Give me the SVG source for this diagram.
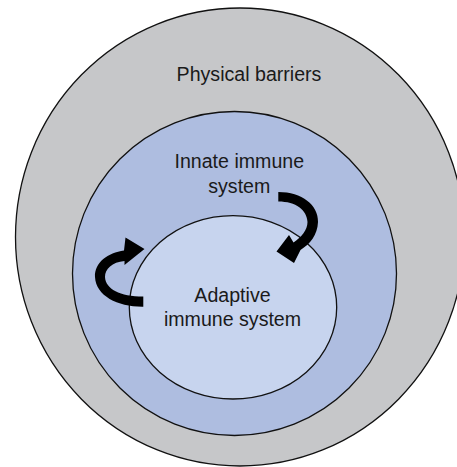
<svg xmlns="http://www.w3.org/2000/svg" width="457" height="467" viewBox="0 0 457 467">
<style>
.ring{stroke:#111;stroke-width:1.3}
.lbl{font-family:"Liberation Sans",Arial,sans-serif;font-size:19.6px;fill:#1a1a1a;text-anchor:middle}
.arr{fill:#000}
</style>
<rect width="457" height="467" fill="#fff"/>
<g id="physical-barriers">
<ellipse class="ring" cx="240" cy="237" rx="224.5" ry="229" fill="#c6c7c9"/>
<text class="lbl" x="249" y="81">Physical barriers</text>
</g>
<g id="innate-immune-system">
<circle class="ring" cx="234.5" cy="273.5" r="162" fill="#aebde0"/>
<text class="lbl" x="239.3" y="168">Innate immune</text>
<text class="lbl" x="239.3" y="192.5">system</text>
</g>
<g id="adaptive-immune-system">
<ellipse class="ring" cx="233" cy="307.3" rx="103.7" ry="91.7" fill="#c7d4ee"/>
<text class="lbl" x="232.5" y="301.7">Adaptive</text>
<text class="lbl" x="232.5" y="325.7">immune system</text>
</g>
<g id="connectors">
<path class="arr" d="M278.3,192 C302,192 318.5,205 318,222 C317.5,235 310,244 300.5,250 L294,263 L276.5,251.5 L289,235 L293.5,242.5 C301,237.5 307.5,230 307.5,222 C307,210 296,201.5 278.3,201.5 Z"/>
<path class="arr" d="M143.3,306.7 C118,307 96,296 95,277 C94.5,262 108,253 124,250.5 L125.5,237.5 L144.5,249 L124.5,265 L124.5,261 C112,262 105,269 105,277 C105.5,289 120,296.5 143.3,296.5 Z"/>
</g>
</svg>
